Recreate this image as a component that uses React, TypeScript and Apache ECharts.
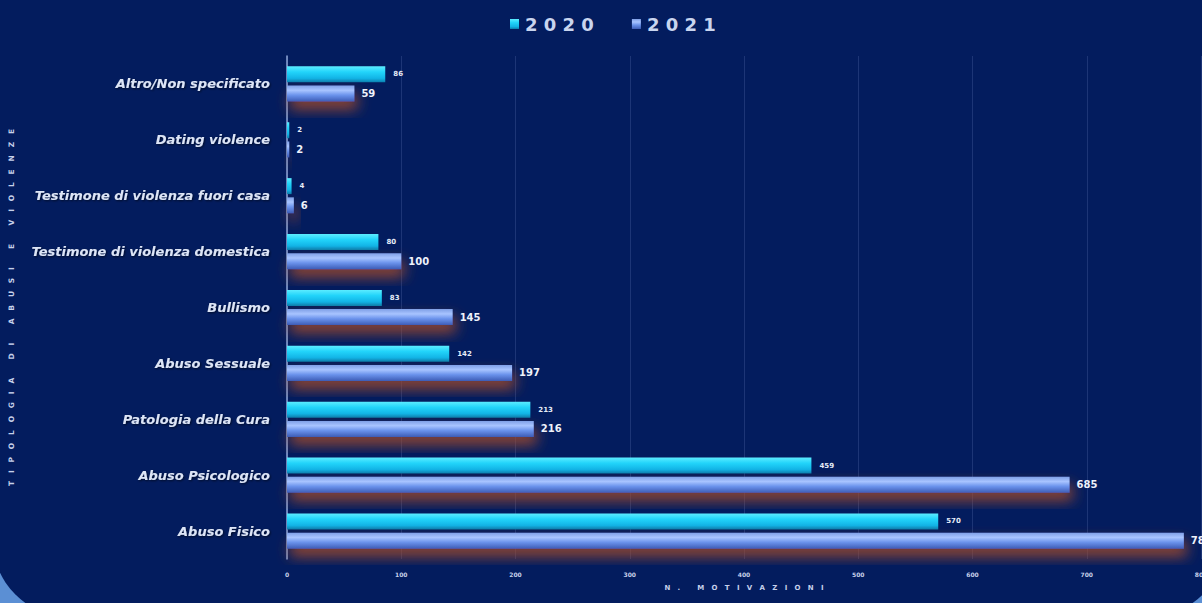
import React, { useEffect, useRef } from "react";
import * as echarts from "echarts";

const categories = [
  "Altro/Non specificato",
  "Dating violence",
  "Testimone di violenza fuori casa",
  "Testimone di violenza domestica",
  "Bullismo",
  "Abuso Sessuale",
  "Patologia della Cura",
  "Abuso Psicologico",
  "Abuso Fisico",
];
const values2020 = [86, 2, 4, 80, 83, 142, 213, 459, 570];
const values2021 = [59, 2, 6, 100, 145, 197, 216, 685, 785];
const xTicks = { min: 0, max: 800, interval: 100 };
const yTitle = "TIPOLOGIA DI ABUSI E VIOLENZE";
const xTitle = "N. MOTIVAZIONI";

const spaced = (s: string, sep: string) => s.split("").join(sep);

export default function App() {
  const ref = useRef<HTMLDivElement>(null);
  useEffect(() => {
    document.body.style.margin = "0";
    const chart = echarts.init(ref.current!, null, { renderer: "svg" });
    const grad2020 = new echarts.graphic.LinearGradient(0, 0, 0, 1, [
      { offset: 0, color: "#5cecff" },
      { offset: 0.35, color: "#22d4fa" },
      { offset: 0.75, color: "#12b4e6" },
      { offset: 1, color: "#0a7fae" },
    ]);
    const grad2021 = new echarts.graphic.LinearGradient(0, 0, 0, 1, [
      { offset: 0, color: "#7f9fe6" },
      { offset: 0.3, color: "#a8c4ff" },
      { offset: 0.6, color: "#6b93ec" },
      { offset: 1, color: "#3d5cb6" },
    ]);
    chart.setOption({
      animation: false,
      backgroundColor: "#5b8fd4",
      graphic: [
        {
          type: "rect",
          z: -100,
          silent: true,
          shape: { x: -8, y: -100, width: 1234, height: 718, r: [0, 0, 80, 80] },
          style: { fill: "#031c5e" },
        },
      ],
      legend: {
        top: 10,
        left: 505,
        icon: "rect",
        itemWidth: 9,
        itemHeight: 10,
        itemGap: 38,
        data: ["2020", "2021"],
        formatter: (n: string) => spaced(n, " "),
        textStyle: {
          color: "#c9d5ef",
          fontSize: 18,
          fontWeight: "bold",
          fontFamily: "DejaVu Sans",
          padding: [0, 0, 0, 1],
        },
      },
      grid: { left: 287, right: 1, top: 56, bottom: 44, containLabel: false, outerBoundsMode: "none" },
      xAxis: {
        type: "value",
        min: xTicks.min,
        max: xTicks.max,
        interval: xTicks.interval,
        name: spaced(xTitle, "   "),
        nameLocation: "middle",
        nameGap: 25,
        nameTextStyle: { color: "#c6d0ea", fontSize: 7, fontWeight: "bold", fontFamily: "DejaVu Sans" },
        axisLine: { show: false },
        axisTick: { show: false },
        axisLabel: { color: "#c6d0ea", fontSize: 6, margin: 12, fontFamily: "DejaVu Sans", fontWeight: "bold" },
        splitLine: { show: true, lineStyle: { color: "#1d3576", width: 1 } },
      },
      yAxis: {
        type: "category",
        inverse: true,
        data: categories,
        name: spaced(yTitle, "   "),
        nameLocation: "middle",
        nameGap: 272,
        nameRotate: 90,
        nameTextStyle: { color: "#c6d0ea", fontSize: 7.5, fontWeight: "bold", fontFamily: "DejaVu Sans" },
        axisLine: { show: true, lineStyle: { color: "#8fa6d8", width: 1.5 } },
        axisTick: { show: false },
        axisLabel: {
          color: "#dde5f6",
          fontSize: 13,
          fontStyle: "italic",
          fontWeight: "bold",
          fontFamily: "DejaVu Sans",
          margin: 17,
          textShadowColor: "rgba(0,0,0,0.6)",
          textShadowBlur: 2,
          textShadowOffsetX: 1,
          textShadowOffsetY: 1,
        },
      },
      series: [
        {
          name: "2020",
          type: "bar",
          data: values2020,
          barWidth: 16,
          barGap: "20%",
          itemStyle: { color: grad2020 },
          label: {
            show: true,
            position: "right",
            distance: 8,
            color: "#e6ecf8",
            fontSize: 7,
            fontWeight: "bold",
            fontFamily: "DejaVu Sans",
          },
        },
        {
          name: "2021",
          type: "bar",
          data: values2021,
          barWidth: 16,
          itemStyle: {
            color: grad2021,
            shadowColor: "rgba(160,75,45,0.9)",
            shadowBlur: 14,
            shadowOffsetX: 3,
            shadowOffsetY: 8,
          },
          label: {
            show: true,
            position: "right",
            distance: 7,
            color: "#eef2fb",
            fontSize: 10,
            fontWeight: "bold",
            fontFamily: "DejaVu Sans",
          },
        },
      ],
    });
    return () => chart.dispose();
  }, []);
  return <div ref={ref} style={{ width: 1202, height: 603 }} />;
}
